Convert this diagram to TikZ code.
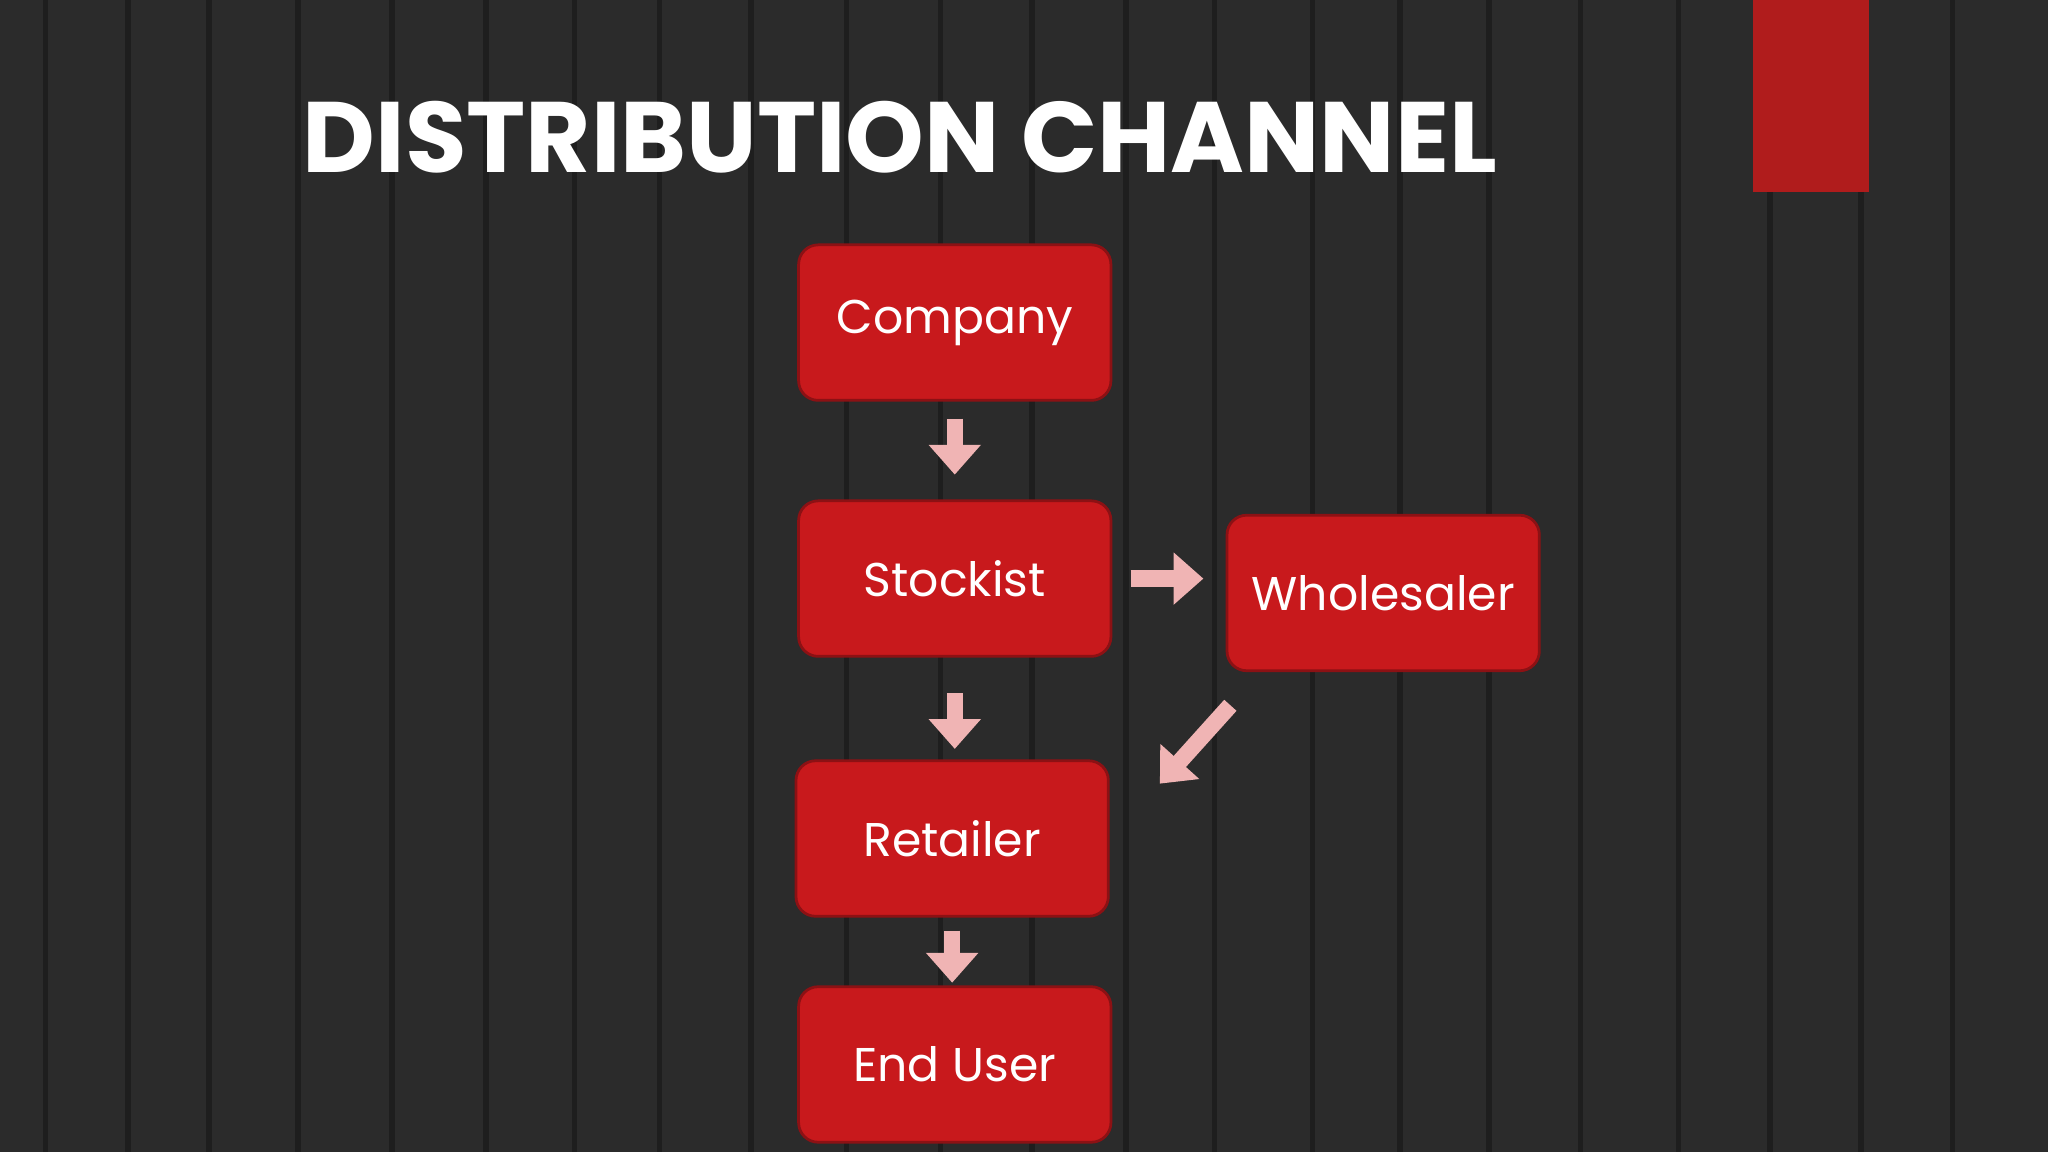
\documentclass[tikz,border=0pt]{standalone}
\usepackage{fontspec}
\setmainfont{Poppins}
\usetikzlibrary{arrows.meta}
\definecolor{bg}{HTML}{2B2B2B}
\definecolor{plank}{HTML}{1E1E1E}
\definecolor{boxred}{HTML}{C8191C}
\definecolor{barred}{HTML}{B01C1C}
\definecolor{arr}{HTML}{F0B4B4}
\tikzset{
 box/.style={draw=boxred!70!black, line width=0.6pt, fill=boxred, rounded corners=0.15cm, minimum width=2.39cm, minimum height=1.19cm, text=white, font=\fontsize{10.3}{12}\selectfont},
 flow/.style={draw=arr, line width=3.6pt, -{Triangle[width=11pt,length=6.5pt]}}
}
\begin{document}
\begin{tikzpicture}[x=0.01cm,y=-0.01cm]
\useasboundingbox (0,0) rectangle (1568,882);
\fill[bg] (0,0) rectangle (1568,882);
\foreach \x in {35,98,160,228,300,372,440,505,575,648,720,790,862,930,1005,1072,1140,1210,1285,1355,1425,1495}
  \draw[plank, line width=1.2pt] (\x,0) -- (\x,882);
\fill[barred] (1342,0) rectangle (1431,147);
\node[text=white, font=\fontsize{21.8}{26}\selectfont\bfseries] (title) at (689,105) {DISTRIBUTION CHANNEL};
\node[box] (company) at (731,247) {Company};
\node[box] (stockist) at (731,443) {Stockist};
\node[box] (wholesaler) at (1059,454) {Wholesaler};
\node[box] (retailer) at (729,642) {Retailer};
\node[box] (enduser) at (731,815) {End User};
\draw[flow, shorten <=0.13cm, shorten >=0.19cm] (company.south) -- (company.south |- stockist.north);
\draw[flow, shorten <=0.14cm, shorten >=0.17cm] (stockist.east) -- (stockist.east -| wholesaler.west);
\draw[flow, shorten <=0.27cm, shorten >=0.08cm] (stockist.south) -- (stockist.south |- retailer.north);
\draw[flow, shorten <=0.10cm, shorten >=0.02cm] (retailer.south) -- (retailer.south |- enduser.north);
\coordinate (dA) at (942,540);
\coordinate (dB) at (888,600);
\draw[flow] (dA) -- (dB);
\end{tikzpicture}
\end{document}
